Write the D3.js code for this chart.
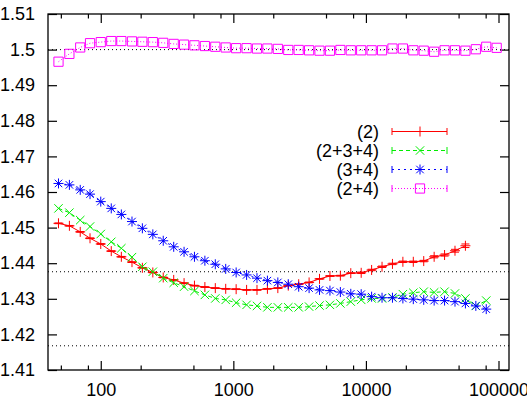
<!DOCTYPE html>
<html>
<head>
<meta charset="utf-8">
<script src="https://cdn.jsdelivr.net/npm/d3@7"></script>
<style>
body { margin: 0; background: #fff; }
text { font-family: "Liberation Sans", Arial, sans-serif; font-size: 18px; fill: #000; }
</style>
</head>
<body>
<svg id="chart" width="527" height="403"></svg>
<script>
// x positions of the samples (log spaced)
var xs = [48, 58, 70, 83, 100, 120, 143, 172, 206, 247, 296, 355, 425, 509, 610,
  731, 876, 1050, 1259, 1508, 1807, 2166, 2596, 3111, 3728, 4467, 5354, 6416, 7689,
  9213, 11041, 13232, 15857, 19003, 22773, 27290, 32704, 39192, 46966, 56285,
  67451, 80832, 96869];

var s2 = [1.4512, 1.4505, 1.4488, 1.4470, 1.4454, 1.4434, 1.4418, 1.4403, 1.4387, 1.4374,
  1.4360, 1.4353, 1.4344, 1.4337, 1.4333, 1.4330, 1.4328, 1.4327, 1.4325, 1.4325,
  1.4328, 1.4330, 1.4337, 1.4341, 1.4346, 1.4356, 1.4364, 1.4365, 1.4372, 1.4373,
  1.4381, 1.4390, 1.4398, 1.4404, 1.4404, 1.4406, 1.4418, 1.4423, 1.4435, 1.4449];
var s2err = [0.0001, 0.0001, 0.0001, 0.0001, 0.0001, 0.0001, 0.0001, 0.0001, 0.0001, 0.0001,
  0.0001, 0.0001, 0.0001, 0.0001, 0.0001, 0.0001, 0.0001, 0.0001, 0.0001, 0.0001,
  0.0001, 0.0001, 0.0001, 0.0001, 0.0001, 0.0001, 0.0001, 0.0001, 0.0001, 0.0002,
  0.0002, 0.0002, 0.0002, 0.0002, 0.0002, 0.0002, 0.0003, 0.0003, 0.0004, 0.0005];

var s234 = [1.4554, 1.4542, 1.4521, 1.4503, 1.4482, 1.4460, 1.4442, 1.4417, 1.4390, 1.4376,
  1.4358, 1.4345, 1.4334, 1.4322, 1.4311, 1.4301, 1.4297, 1.4289, 1.4283, 1.4280,
  1.4276, 1.4276, 1.4276, 1.4276, 1.4278, 1.4281, 1.4283, 1.4287, 1.4292, 1.4297,
  1.4301, 1.4301, 1.4304, 1.4313, 1.4317, 1.4320, 1.4318, 1.4320, 1.4315, 1.4301,
  1.4280, 1.4295];

var s34 = [1.4624, 1.4620, 1.4606, 1.4594, 1.4573, 1.4554, 1.4537, 1.4517, 1.4498, 1.4481,
  1.4463, 1.4446, 1.4432, 1.4418, 1.4407, 1.4397, 1.4384, 1.4374, 1.4367, 1.4358,
  1.4351, 1.4346, 1.4341, 1.4334, 1.4330, 1.4325, 1.4323, 1.4319, 1.4314, 1.4313,
  1.4306, 1.4303, 1.4303, 1.4301, 1.4299, 1.4297, 1.4295, 1.4295, 1.4292, 1.4287,
  1.4280, 1.4271];

var s24 = [1.4966, 1.4988, 1.5006, 1.5018, 1.5021, 1.5024, 1.5024, 1.5023, 1.5022, 1.5021,
  1.5019, 1.5016, 1.5014, 1.5012, 1.5010, 1.5008, 1.5006, 1.5004, 1.5004, 1.5003,
  1.5003, 1.5002, 1.4999, 1.4999, 1.4998, 1.4997, 1.4997, 1.4999, 1.4998, 1.4998,
  1.4998, 1.4998, 1.5003, 1.5003, 1.4998, 1.4997, 1.4994, 1.4998, 1.4998, 1.4997,
  1.5001, 1.5008, 1.5005];

var names = ["(2)", "(2+3+4)", "(3+4)", "(2+4)"];
var refLines = [1.5, 1.4376, 1.4168];
var yTicks = [1.41, 1.42, 1.43, 1.44, 1.45, 1.46, 1.47, 1.48, 1.49, 1.5, 1.51];
var xTicks = [100, 1000, 10000, 100000];
var xMinor = [50, 80, 200, 500, 800, 2000, 5000, 8000, 20000, 50000, 80000];

var padL = 48, padR = 509, padT = 14, padB = 370;

var svg = d3.select("#chart");
svg.append("rect").attr("width", 527).attr("height", 403).attr("fill", "#fff");

var xScale = d3.scaleLog().domain([40, 120000]).range([padL, padR]);
var yScale = d3.scaleLinear().domain([1.41, 1.51]).range([padB, padT]);

// dotted reference lines
svg.selectAll("line.ref").data(refLines).enter()
  .append("line")
  .attr("class", "ref")
  .attr("x1", padL).attr("x2", padR)
  .attr("y1", function(d) { return yScale(d); })
  .attr("y2", function(d) { return yScale(d); })
  .attr("stroke", "#000")
  .attr("stroke-width", 1)
  .attr("stroke-dasharray", "1,3");

// axes, ticks pointing inward
var fmt = function(d) { return d3.format("~g")(d); };

var xAxis = d3.axisBottom(xScale).tickValues(xTicks).tickFormat(fmt)
  .tickSize(-9).tickSizeOuter(0).tickPadding(13);
var gx = svg.append("g").attr("transform", "translate(0," + padB + ")").call(xAxis);
gx.append("g").call(d3.axisBottom(xScale).tickValues(xMinor).tickFormat("").tickSize(-4.5).tickSizeOuter(0));

var gxTop = svg.append("g").attr("transform", "translate(0," + padT + ")")
  .call(d3.axisTop(xScale).tickValues(xTicks).tickFormat("").tickSize(-9).tickSizeOuter(0));
gxTop.append("g").call(d3.axisTop(xScale).tickValues(xMinor).tickFormat("").tickSize(-4.5).tickSizeOuter(0));

var yAxis = d3.axisLeft(yScale).tickValues(yTicks).tickFormat(fmt)
  .tickSize(-9).tickSizeOuter(0).tickPadding(13);
svg.append("g").attr("transform", "translate(" + padL + ",0)").call(yAxis);
svg.append("g").attr("transform", "translate(" + padR + ",0)")
  .call(d3.axisRight(yScale).tickValues(yTicks).tickFormat("").tickSize(-9).tickSizeOuter(0));

svg.selectAll(".domain").remove();
svg.selectAll(".tick line").attr("stroke", "#000").attr("stroke-width", 1.2);
svg.selectAll(".tick text").attr("font-size", 18).attr("font-family", "Liberation Sans, Arial, sans-serif").attr("fill", "#000");

svg.append("rect")
  .attr("x", padL).attr("y", padT)
  .attr("width", padR - padL).attr("height", padB - padT)
  .attr("fill", "none").attr("stroke", "#000").attr("stroke-width", 1.3);

// markers
function marker(type, r) {
  if (type == "plus") return "M" + (-r) + ",0H" + r + "M0," + (-r) + "V" + r;
  if (type == "cross") return "M" + (-r) + "," + (-r) + "L" + r + "," + r + "M" + (-r) + "," + r + "L" + r + "," + (-r);
  if (type == "star") return marker("plus", r) + marker("cross", r * 0.75);
  return "M" + (-r) + "," + (-r) + "H" + r + "V" + r + "H" + (-r) + "Z";
}

var series = [
  { name: names[0], vals: s2, err: s2err, color: "#ff0000", dash: null, mk: "plus", r: 5 },
  { name: names[1], vals: s234, err: null, color: "#00ee00", dash: "4,3", mk: "cross", r: 4.2 },
  { name: names[2], vals: s34, err: null, color: "#0000ff", dash: "2,4", mk: "star", r: 5 },
  { name: names[3], vals: s24, err: null, color: "#ff00ff", dash: "1,2", mk: "square", r: 4.6 }
];

var line = d3.line()
  .x(function(d) { return xScale(d[0]); })
  .y(function(d) { return yScale(d[1]); });

series.forEach(function(se) {
  var pts = se.vals.map(function(v, i) { return [xs[i], v, se.err ? se.err[i] : 0]; });
  var g = svg.append("g");
  g.append("path")
    .attr("d", line(pts))
    .attr("fill", "none")
    .attr("stroke", se.color)
    .attr("stroke-width", 1)
    .attr("stroke-dasharray", se.dash);
  // error bars
  if (se.err) {
    g.selectAll("path.eb").data(pts).enter()
      .append("path")
      .attr("class", "eb")
      .attr("d", function(d) {
        var cx = xScale(d[0]), y1 = yScale(d[1] - d[2]), y2 = yScale(d[1] + d[2]);
        return "M" + cx + "," + y1 + "V" + y2 +
          "M" + (cx - 4) + "," + y1 + "H" + (cx + 4) +
          "M" + (cx - 4) + "," + y2 + "H" + (cx + 4);
      })
      .attr("stroke", se.color).attr("fill", "none").attr("stroke-width", 1);
  }
  g.selectAll("path.mk").data(pts).enter()
    .append("path")
    .attr("class", "mk")
    .attr("transform", function(d) { return "translate(" + xScale(d[0]) + "," + yScale(d[1]) + ")"; })
    .attr("d", marker(se.mk, se.r))
    .attr("fill", "none")
    .attr("stroke", se.color)
    .attr("stroke-width", 1);
});

// legend
var leg = svg.append("g");
series.forEach(function(se, i) {
  var ly = 131.5 + i * 19;
  leg.append("text")
    .attr("x", 379).attr("y", ly).attr("dy", "0.36em")
    .attr("text-anchor", "end")
    .text(se.name);
  leg.append("path")
    .attr("d", "M392," + ly + "H447")
    .attr("stroke", se.color).attr("stroke-width", 1)
    .attr("stroke-dasharray", se.dash).attr("fill", "none");
  leg.append("path")
    .attr("d", "M392," + (ly - 3.5) + "V" + (ly + 3.5) + "M447," + (ly - 3.5) + "V" + (ly + 3.5))
    .attr("stroke", se.color).attr("stroke-width", 1).attr("fill", "none");
  leg.append("path")
    .attr("transform", "translate(420," + ly + ")")
    .attr("d", marker(se.mk, se.r))
    .attr("stroke", se.color).attr("stroke-width", 1).attr("fill", "none");
});
</script>
</body>
</html>
